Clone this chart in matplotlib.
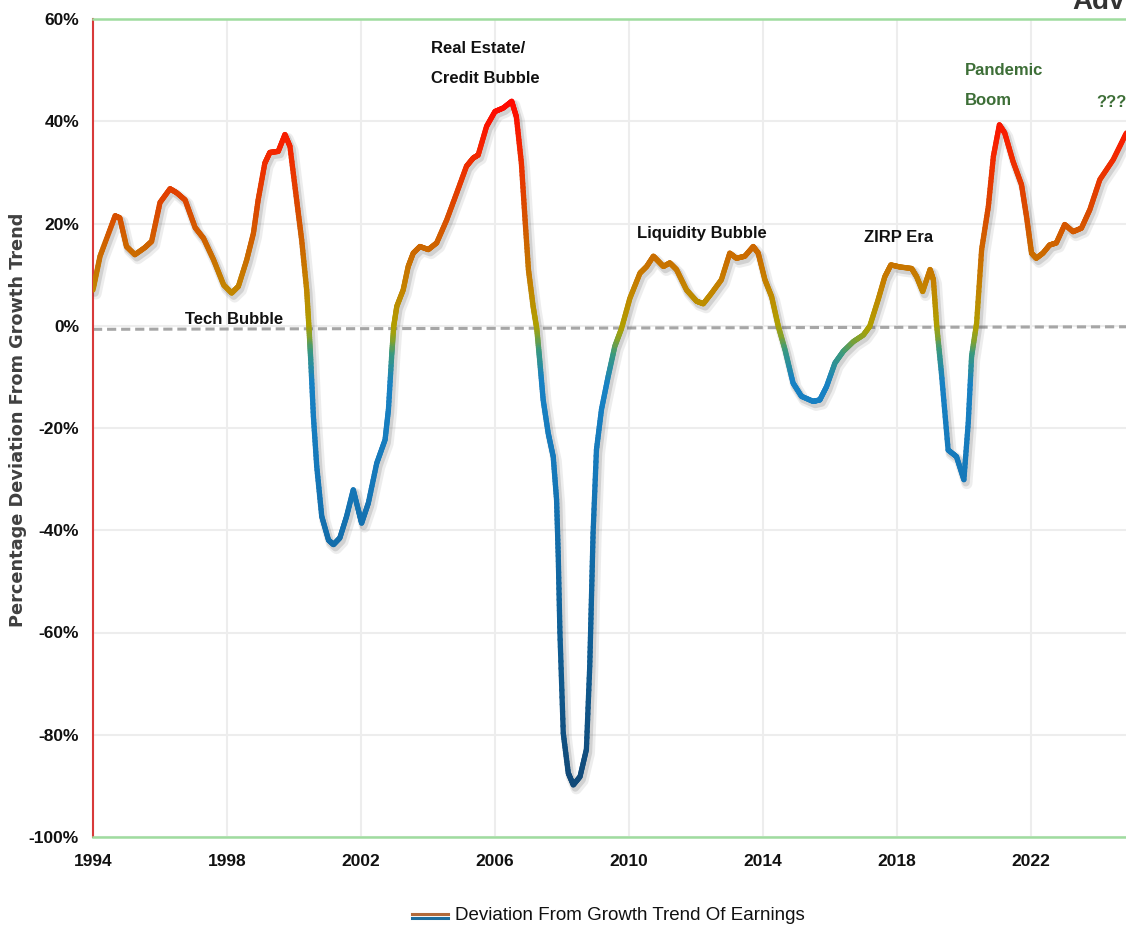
import numpy as np
import matplotlib
matplotlib.use('Agg')
import matplotlib.pyplot as plt
from matplotlib.collections import LineCollection
from matplotlib.colors import LinearSegmentedColormap, Normalize
from matplotlib.lines import Line2D
import matplotlib.transforms as mtransforms

# ---------------- data ----------------
years = [1994.00, 1994.21, 1994.66, 1994.80, 1995.00, 1995.25, 1995.55, 1995.75, 1996.00, 1996.30,
         1996.50, 1996.75, 1997.05, 1997.30, 1997.60, 1997.90, 1998.14, 1998.34, 1998.59, 1998.79,
         1998.93, 1999.13, 1999.28, 1999.53, 1999.73, 1999.88, 2000.08, 2000.23, 2000.38, 2000.45,
         2000.50, 2000.58, 2000.68, 2000.83, 2001.03, 2001.18, 2001.37, 2001.57, 2001.77, 2001.92,
         2002.02, 2002.22, 2002.47, 2002.72, 2002.82, 2002.92, 2002.98, 2003.07, 2003.26, 2003.41,
         2003.56, 2003.76, 2004.01, 2004.26, 2004.56, 2004.86, 2005.15, 2005.35, 2005.50, 2005.75,
         2006.00, 2006.25, 2006.50, 2006.64, 2006.79, 2006.90, 2007.00, 2007.14, 2007.25, 2007.34,
         2007.44, 2007.59, 2007.74, 2007.84, 2007.89, 2007.94, 2008.04, 2008.19, 2008.34, 2008.54,
         2008.73, 2008.83, 2008.88, 2008.93, 2009.03, 2009.18, 2009.38, 2009.58, 2009.78, 2010.03,
         2010.33, 2010.53, 2010.73, 2010.88, 2011.03, 2011.22, 2011.42, 2011.72, 2012.02, 2012.22,
         2012.47, 2012.76, 2013.01, 2013.21, 2013.46, 2013.71, 2013.86, 2014.06, 2014.26, 2014.46,
         2014.66, 2014.90, 2015.15, 2015.50, 2015.70, 2015.90, 2016.15, 2016.40, 2016.70, 2017.00,
         2017.19, 2017.44, 2017.64, 2017.82, 2018.09, 2018.44, 2018.59, 2018.77, 2018.99, 2019.09,
         2019.19, 2019.33, 2019.53, 2019.78, 2020.00, 2020.13, 2020.23, 2020.38, 2020.53, 2020.73,
         2020.88, 2021.06, 2021.22, 2021.47, 2021.72, 2021.87, 2022.02, 2022.16, 2022.36, 2022.56,
         2022.76, 2023.01, 2023.26, 2023.51, 2023.76, 2024.06, 2024.46, 2024.85]
deviation = [7.0, 13.6, 21.5, 21.1, 15.5, 13.9, 15.3, 16.5, 24.1, 26.8,
             26.0, 24.6, 19.2, 17.1, 12.9, 8.0, 6.4, 7.7, 12.9, 18.1,
             24.6, 31.8, 33.9, 34.1, 37.4, 35.1, 24.6, 16.8, 7.0, -0.6,
             -6.6, -17.7, -27.5, -37.3, -41.9, -42.8, -41.5, -37.3, -32.1, -36.0,
             -38.6, -34.7, -26.9, -22.3, -16.4, -5.5, 0.0, 3.8, 7.0, 11.6,
             14.2, 15.5, 14.9, 16.2, 20.7, 26.0, 31.2, 32.8, 33.4, 39.0,
             41.9, 42.6, 43.9, 40.9, 31.8, 20.7, 11.0, 3.8, -0.6, -7.0,
             -14.5, -21.0, -25.6, -34.0, -45.0, -60.0, -79.7, -87.5, -89.8, -88.2,
             -82.9, -66.6, -53.6, -40.5, -24.3, -16.4, -9.9, -4.0, -0.5, 5.4,
             10.3, 11.6, 13.6, 12.6, 11.6, 12.3, 11.0, 7.0, 4.8, 4.3,
             6.4, 9.0, 14.2, 13.2, 13.6, 15.5, 14.2, 9.0, 5.7, -0.1,
             -4.7, -11.2, -13.8, -14.8, -14.5, -11.9, -7.3, -5.0, -3.1, -1.8,
             -0.1, 5.1, 9.6, 11.9, 11.5, 11.2, 9.6, 6.7, 11.0, 9.0,
             -0.1, -9.2, -24.3, -25.6, -30.1, -19.0, -6.0, 0.5, 14.9, 23.3,
             33.1, 39.3, 37.7, 32.1, 27.6, 21.4, 14.2, 13.2, 14.2, 15.8,
             16.2, 19.8, 18.4, 19.1, 22.7, 28.6, 32.5, 37.7]

x_ticks = [1994, 1998, 2002, 2006, 2010, 2014, 2018, 2022]
x_tick_labels = ['1994', '1998', '2002', '2006', '2010', '2014', '2018', '2022']
y_ticks = [-100, -80, -60, -40, -20, 0, 20, 40, 60]
y_tick_labels = ['-100%', '-80%', '-60%', '-40%', '-20%', '0%', '20%', '40%', '60%']
x_range = [1994, 2024.84]

zero_line_x = [1994, 2024.84]
zero_line_y = [-0.7, -0.2]

series_label = 'Deviation From Growth Trend Of Earnings'
y_label = 'Percentage Deviation From Growth Trend'

black_notes = ['Tech Bubble', 'Real Estate/\nCredit Bubble', 'Liquidity Bubble', 'ZIRP Era']
black_note_x = [1998.2, 2004.1, 2012.18, 2018.06]
black_note_y = [-0.2, 55.6, 16.6, 15.7]
black_note_ha = ['center', 'left', 'center', 'center']
green_notes = ['Pandemic\nBoom', '???']
green_note_x = [2020.03, 2023.95]
green_note_y = [51.3, 45.1]

# ---------------- styling ----------------
SANS = ['Liberation Sans', 'DejaVu Sans']
W, H = 1126, 935

fig = plt.figure(figsize=(W / 100, H / 100), dpi=100)
fig.patch.set_facecolor('white')
ax = fig.add_axes([93 / W, 1 - 837 / H, 1 - 93 / W, (837 - 19) / H])
ax.set_xlim(*x_range)
ax.set_ylim(-100, 60)

# grid / ticks
ax.set_xticks(x_ticks)
ax.set_xticklabels(x_tick_labels)
ax.set_yticks(y_ticks)
ax.set_yticklabels(y_tick_labels)
ax.grid(True, color='#ededed', linewidth=1.5, zorder=0)
ax.set_axisbelow(True)
ax.tick_params(length=0, labelsize=12.5, colors='#111111')
ax.tick_params(axis='y', pad=10)
ax.tick_params(axis='x', pad=12)
for lab in ax.get_xticklabels() + ax.get_yticklabels():
    lab.set_family(SANS)
    lab.set_fontweight('bold')

ax.spines['right'].set_visible(False)
ax.spines['top'].set_color('#9fdc9f')
ax.spines['top'].set_linewidth(1.8)
ax.spines['bottom'].set_color('#9fdc9f')
ax.spines['bottom'].set_linewidth(1.8)
ax.spines['left'].set_color('#d83a3a')
ax.spines['left'].set_linewidth(1.5)

# dashed zero line
ax.plot(zero_line_x, zero_line_y, color='#a6a6a6', linewidth=2.2,
        linestyle=(0, (3, 1.6)), zorder=2)

# shadow of the series
for dx, dy, lw, a in [(3, -4, 8, 0.10), (2, -3, 5.5, 0.18)]:
    tr = mtransforms.offset_copy(ax.transData, fig=fig, x=dx, y=dy, units='dots')
    ax.plot(years, deviation, color='#555555', alpha=a, linewidth=lw,
            solid_joinstyle='round', solid_capstyle='round', transform=tr, zorder=3)

# gradient-coloured series
cmap = LinearSegmentedColormap.from_list('dev', [
    (0.00, '#124a78'),
    (0.22, '#0f5f96'),
    (0.45, '#1678b9'),
    (0.59, '#1882c4'),
    (0.635, '#3b9a7c'),
    (0.655, '#86a22a'),
    (0.672, '#b09f00'),
    (0.73, '#c48300'),
    (0.78, '#cb6a00'),
    (0.85, '#dc4700'),
    (0.93, '#f42600'),
    (1.00, '#ff0800'),
])
norm = Normalize(vmin=-90, vmax=44)
xs = np.asarray(years, dtype=float)
ys = np.asarray(deviation, dtype=float)
segs, cols = [], []
nsub = 14
for i in range(len(xs) - 1):
    t = np.linspace(0, 1, nsub + 1)
    px = xs[i] + (xs[i + 1] - xs[i]) * t
    py = ys[i] + (ys[i + 1] - ys[i]) * t
    for k in range(nsub):
        segs.append([(px[k], py[k]), (px[k + 1], py[k + 1])])
        cols.append(0.5 * (py[k] + py[k + 1]))
lc = LineCollection(segs, colors=cmap(norm(np.array(cols))), linewidths=3.8,
                    capstyle='round', joinstyle='round', zorder=4)
ax.add_collection(lc)

# annotations
for txt, x, y, ha in zip(black_notes, black_note_x, black_note_y, black_note_ha):
    ax.text(x, y, txt, ha=ha, va='top' if '\n' in txt else 'bottom', fontsize=12,
            fontweight='bold', family=SANS, color='#111111', linespacing=2.24, zorder=6)
for txt, x, y in zip(green_notes, green_note_x, green_note_y):
    ax.text(x, y, txt, ha='left', va='top', fontsize=12, fontweight='bold',
            family=SANS, color='#3d6e37', linespacing=2.24, zorder=6)

# y label
fig.text(18 / W, 1 - 420 / H, y_label, rotation=90, ha='center', va='center',
         fontsize=12.8, fontweight='bold', color='#404040', family=['DejaVu Sans'])

# legend (manual)
ly = 1 - 916 / H
fig.add_artist(Line2D([412 / W, 448 / W], [ly + 1.6 / H, ly + 1.6 / H], color='#b36a3a', linewidth=2.2,
                      transform=fig.transFigure))
fig.add_artist(Line2D([412 / W, 448 / W], [ly - 1.6 / H, ly - 1.6 / H], color='#1f6e9e', linewidth=2.2,
                      transform=fig.transFigure))
fig.text(455 / W, ly, series_label, ha='left', va='center', fontsize=13.5,
         family=SANS, color='#111111')

# partial logo text at top-right (cropped in the reference)
fig.text(1072 / W, 1 - 2 / H, 'Advisors', ha='left', va='center', fontsize=20,
         fontweight='bold', family=SANS, color='#333333')

fig.savefig('out.png', dpi=100, facecolor='white')
